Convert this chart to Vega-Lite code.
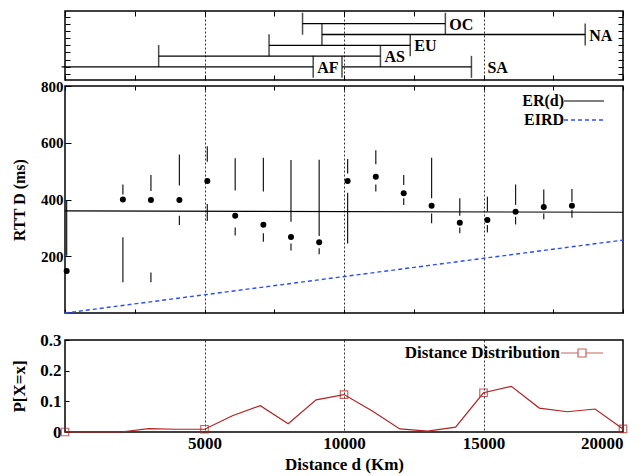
{
  "$schema": "https://vega.github.io/schema/vega-lite/v6.json",
  "background": "white",
  "padding": {"left": 10, "top": 9, "right": 5, "bottom": 3},
  "spacing": -4,
  "resolve": {"scale": {"color": "independent", "strokeDash": "independent"}, "legend": {"color": "independent", "strokeDash": "independent"}},
  "config": {
    "view": {"stroke": "black", "strokeWidth": 1.5},
    "axis": {
      "labelFont": "Liberation Serif", "labelFontWeight": "bold", "labelFontSize": 15, "labelColor": "black",
      "titleFont": "Liberation Serif", "titleFontWeight": "bold", "titleFontSize": 16, "titleColor": "black",
      "domain": false, "tickColor": "black", "tickWidth": 1, "gridColor": "black", "gridDash": [2, 2], "gridWidth": 0.8,
      "labelOverlap": false, "tickCount": 30
    },
    "legend": {
      "labelFont": "Liberation Serif", "labelFontWeight": "bold", "labelFontSize": 16, "labelColor": "black",
      "padding": 0
    }
  },
  "vconcat": [
    {
      "width": 558,
      "height": 69,
      "data": {"values": [
        {"region": "OC", "lo": 8514, "hi": 13633, "row": 7},
        {"region": "NA", "lo": 9209, "hi": 18645, "row": 5.5},
        {"region": "EU", "lo": 7314, "hi": 12374, "row": 4},
        {"region": "AS", "lo": 3357, "hi": 11306, "row": 2.5},
        {"region": "AF", "lo": -120, "hi": 8896, "row": 1},
        {"region": "SA", "lo": 9928, "hi": 14568, "row": 1}
      ]},
      "layer": [
        {
          "mark": {"type": "rule", "color": "black", "strokeWidth": 1.3, "clip": false},
          "encoding": {
            "x": {"field": "lo", "type": "quantitative", "scale": {"domain": [0, 20000], "nice": false},
              "axis": {"orient": "bottom", "values": [0, 2500, 5000, 7500, 10000, 12500, 15000, 17500, 20000], "tickCount": 30, "labels": false, "title": null, "tickSize": -5, "grid": true,
                "gridOpacity": {"condition": {"test": "datum.value % 5000 === 0 && datum.value > 0 && datum.value < 20000", "value": 1}, "value": 0}}},
            "x2": {"field": "hi"},
            "y": {"field": "row", "type": "quantitative", "scale": {"domain": [-0.83, 8.77], "nice": false, "zero": false},
              "axis": {"orient": "left", "values": [0, 1, 2, 3, 4, 5, 6, 7, 8], "tickCount": 30, "labels": false, "title": null, "tickSize": -5, "grid": false}}
          }
        },
        {
          "transform": [{"fold": ["lo", "hi"], "as": ["end", "pos"]}, {"filter": "datum.pos >= 0"}],
          "mark": {"type": "tick", "orient": "vertical", "size": 22, "thickness": 1.5, "color": "black"},
          "encoding": {
            "x": {"field": "pos", "type": "quantitative",
              "axis": {"orient": "top", "values": [0, 2500, 5000, 7500, 10000, 12500, 15000, 17500, 20000], "tickCount": 30, "labels": false, "title": null, "tickSize": -5, "grid": false}},
            "y": {"field": "row", "type": "quantitative",
              "axis": {"orient": "right", "values": [0, 1, 2, 3, 4, 5, 6, 7, 8], "tickCount": 30, "labels": false, "title": null, "tickSize": -5, "grid": false}}
          }
        },
        {
          "transform": [{"filter": "datum.region !== 'SA'"}],
          "mark": {"type": "text", "align": "left", "baseline": "middle", "dx": 4, "dy": 1, "font": "Liberation Serif", "fontWeight": "bold", "fontSize": 16, "color": "black"},
          "encoding": {
            "x": {"field": "hi", "type": "quantitative", "axis": null},
            "y": {"field": "row", "type": "quantitative", "axis": null},
            "text": {"field": "region"}
          }
        },
        {
          "transform": [{"filter": "datum.region === 'SA'"}],
          "mark": {"type": "text", "align": "left", "baseline": "middle", "dx": 16, "dy": 1, "font": "Liberation Serif", "fontWeight": "bold", "fontSize": 16, "color": "black"},
          "encoding": {
            "x": {"field": "hi", "type": "quantitative", "axis": null},
            "y": {"field": "row", "type": "quantitative", "axis": null},
            "text": {"field": "region"}
          }
        }
      ],
      "resolve": {"axis": {"x": "independent", "y": "independent"}}
    },
    {
      "width": 558,
      "height": 227,
      "layer": [
        {
          "data": {"values": [
            {"d": 60, "lo": 202, "hi": 398},
            {"d": 2075, "lo": 418, "hi": 453}, {"d": 2075, "lo": 108, "hi": 267},
            {"d": 3080, "lo": 430, "hi": 486}, {"d": 3080, "lo": 108, "hi": 143},
            {"d": 4100, "lo": 449, "hi": 559}, {"d": 4100, "lo": 310, "hi": 343},
            {"d": 5100, "lo": 533, "hi": 588}, {"d": 5100, "lo": 324, "hi": 384},
            {"d": 6100, "lo": 432, "hi": 545}, {"d": 6100, "lo": 273, "hi": 301},
            {"d": 7110, "lo": 428, "hi": 547}, {"d": 7110, "lo": 251, "hi": 281},
            {"d": 8100, "lo": 322, "hi": 539}, {"d": 8100, "lo": 220, "hi": 245},
            {"d": 9110, "lo": 271, "hi": 540}, {"d": 9110, "lo": 207, "hi": 228},
            {"d": 10130, "lo": 492, "hi": 543}, {"d": 10130, "lo": 245, "hi": 424},
            {"d": 11140, "lo": 524, "hi": 574}, {"d": 11140, "lo": 428, "hi": 453},
            {"d": 12140, "lo": 451, "hi": 486}, {"d": 12140, "lo": 381, "hi": 404},
            {"d": 13140, "lo": 404, "hi": 547}, {"d": 13140, "lo": 316, "hi": 351},
            {"d": 14150, "lo": 343, "hi": 404}, {"d": 14150, "lo": 281, "hi": 301},
            {"d": 15140, "lo": 357, "hi": 410}, {"d": 15140, "lo": 284, "hi": 310},
            {"d": 16150, "lo": 381, "hi": 453}, {"d": 16150, "lo": 312, "hi": 339},
            {"d": 17160, "lo": 375, "hi": 435}, {"d": 17160, "lo": 330, "hi": 351},
            {"d": 18170, "lo": 392, "hi": 437}, {"d": 18170, "lo": 336, "hi": 363}
          ]},
          "mark": {"type": "rule", "color": "#1a1a1a", "strokeWidth": 1.2},
          "encoding": {
            "x": {"field": "d", "type": "quantitative", "scale": {"domain": [0, 20000], "nice": false},
              "axis": {"orient": "bottom", "values": [0, 2500, 5000, 7500, 10000, 12500, 15000, 17500, 20000], "labels": false, "title": " ", "titlePadding": 3, "tickSize": -4, "grid": true,
                "gridOpacity": {"condition": {"test": "datum.value % 5000 === 0 && datum.value > 0 && datum.value < 20000", "value": 1}, "value": 0}}},
            "y": {"field": "lo", "type": "quantitative", "scale": {"domain": [0, 800], "nice": false},
              "axis": {"orient": "left", "values": [200, 400, 600, 800], "title": "RTT D (ms)", "titlePadding": 13, "tickSize": -6, "labelPadding": 8, "grid": false}},
            "y2": {"field": "hi"}
          }
        },
        {
          "data": {"values": [
            {"d": 60, "rtt": 148}, {"d": 2075, "rtt": 400}, {"d": 3080, "rtt": 398}, {"d": 4100, "rtt": 398},
            {"d": 5100, "rtt": 465}, {"d": 6100, "rtt": 343}, {"d": 7110, "rtt": 311}, {"d": 8100, "rtt": 268},
            {"d": 9110, "rtt": 249}, {"d": 10130, "rtt": 465}, {"d": 11140, "rtt": 480}, {"d": 12140, "rtt": 422},
            {"d": 13140, "rtt": 378}, {"d": 14150, "rtt": 318}, {"d": 15140, "rtt": 328}, {"d": 16150, "rtt": 357},
            {"d": 17160, "rtt": 374}, {"d": 18170, "rtt": 378}
          ]},
          "mark": {"type": "circle", "size": 36, "color": "black", "opacity": 1},
          "encoding": {
            "x": {"field": "d", "type": "quantitative",
              "axis": {"orient": "top", "values": [0, 2500, 5000, 7500, 10000, 12500, 15000, 17500, 20000], "labels": false, "title": null, "tickSize": -4, "grid": false}},
            "y": {"field": "rtt", "type": "quantitative", "axis": null}
          }
        },
        {
          "data": {"values": [
            {"series": "ER(d)", "d": 0, "v": 360}, {"series": "ER(d)", "d": 20000, "v": 355},
            {"series": "EIRD", "d": 0, "v": 0}, {"series": "EIRD", "d": 20000, "v": 257}
          ]},
          "transform": [{"filter": "datum.series === 'ER(d)'"}],
          "mark": {"type": "line", "strokeWidth": 1.2},
          "encoding": {
            "x": {"field": "d", "type": "quantitative", "axis": null},
            "y": {"field": "v", "type": "quantitative", "axis": null},
            "color": {"field": "series", "type": "nominal", "title": null,
              "scale": {"range": ["#000000"]},
              "legend": {"orient": "none", "legendX": 498, "legendY": -6, "symbolType": "stroke", "symbolSize": 1600, "symbolStrokeWidth": 1.2, "labelAlign": "right", "labelOffset": -41}}
          }
        },
        {
          "data": {"values": [
            {"series": "ER(d)", "d": 0, "v": 360}, {"series": "ER(d)", "d": 20000, "v": 355},
            {"series": "EIRD", "d": 0, "v": 0}, {"series": "EIRD", "d": 20000, "v": 257}
          ]},
          "transform": [{"filter": "datum.series === 'EIRD'"}],
          "mark": {"type": "line", "strokeWidth": 1.4, "color": "#2b4cff"},
          "encoding": {
            "x": {"field": "d", "type": "quantitative", "axis": null},
            "y": {"field": "v", "type": "quantitative", "axis": null},
            "strokeDash": {"field": "series", "type": "nominal", "title": null,
              "scale": {"range": [[4, 3]]},
              "legend": {"orient": "none", "legendX": 498, "legendY": 13, "symbolType": "stroke", "symbolSize": 1600, "symbolStrokeWidth": 1.4, "symbolStrokeColor": "#2b4cff", "labelAlign": "right", "labelOffset": -41}}
          }
        }
      ],
      "resolve": {"axis": {"x": "independent", "y": "independent"}}
    },
    {
      "width": 558,
      "height": 92,
      "data": {"values": [
        {"d": 0, "p": 0.0}, {"d": 1000, "p": 0.0}, {"d": 2000, "p": 0.0}, {"d": 3000, "p": 0.011},
        {"d": 4000, "p": 0.009}, {"d": 5000, "p": 0.009}, {"d": 6000, "p": 0.053}, {"d": 7000, "p": 0.086},
        {"d": 8000, "p": 0.027}, {"d": 9000, "p": 0.105}, {"d": 10000, "p": 0.122}, {"d": 11000, "p": 0.069},
        {"d": 12000, "p": 0.01}, {"d": 13000, "p": 0.003}, {"d": 14000, "p": 0.016}, {"d": 15000, "p": 0.128},
        {"d": 16000, "p": 0.149}, {"d": 17000, "p": 0.078}, {"d": 18000, "p": 0.066}, {"d": 19000, "p": 0.075},
        {"d": 20000, "p": 0.01}
      ]},
      "layer": [
        {
          "mark": {"type": "line", "strokeWidth": 1.2, "clip": false},
          "encoding": {
            "x": {"field": "d", "type": "quantitative", "scale": {"domain": [0, 20000], "nice": false},
              "axis": {"orient": "bottom", "values": [5000, 10000, 15000, 20000], "format": "d", "title": "Distance d (Km)", "titleFontSize": 17, "labelFontSize": 17, "titlePadding": 5, "labelPadding": 3, "ticks": false, "grid": true,
                "gridOpacity": {"condition": {"test": "datum.value < 20000", "value": 1}, "value": 0}}},
            "y": {"field": "p", "type": "quantitative", "scale": {"domain": [0, 0.3], "nice": false},
              "axis": {"orient": "left", "values": [0, 0.1, 0.2, 0.3], "tickCount": 30, "labelExpr": "datum.value === 0 ? '0' : format(datum.value, '.1f')", "title": "P[X=x]", "titleFontSize": 17, "labelFontSize": 17, "titlePadding": 11, "tickSize": -4, "labelPadding": 8, "grid": false}},
            "color": {"datum": "Distance Distribution", "title": null,
              "scale": {"range": ["#b22222"]},
              "legend": {"orient": "none", "legendX": 495, "legendY": -9, "symbolType": "M-1,0H-0.19M0.19,0H1M-0.19,-0.19H0.19V0.19H-0.19Z", "symbolSize": 1764, "symbolStrokeWidth": 1.2, "labelAlign": "right", "labelOffset": -44, "labelFontSize": 17}}
          }
        },
        {
          "transform": [{"filter": "datum.d % 5000 === 0"}],
          "mark": {"type": "point", "shape": "square", "size": 56, "filled": false, "strokeWidth": 1.2, "clip": false},
          "encoding": {
            "x": {"field": "d", "type": "quantitative"},
            "y": {"field": "p", "type": "quantitative"},
            "color": {"datum": "Distance Distribution"}
          }
        }
      ]
    }
  ]
}
